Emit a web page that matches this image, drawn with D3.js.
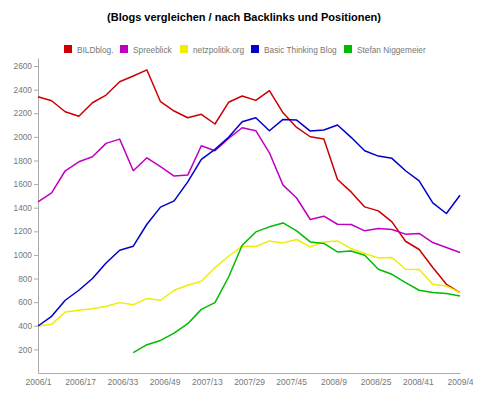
<!DOCTYPE html>
<html>
<head>
<meta charset="utf-8">
<script src="https://cdn.jsdelivr.net/npm/d3@7"></script>
<style>
  body { margin: 0; background: #fff; }
  svg { display: block; font-family: "Liberation Sans", Arial, sans-serif; }
</style>
</head>
<body>
<div id="chart"></div>
<script>
// x-axis labels (every 16 weeks), data points are 32 evenly spaced samples
const xLabels = ["2006/1", "2006/17", "2006/33", "2006/49", "2007/13", "2007/29",
                 "2007/45", "2008/9", "2008/25", "2008/41", "2009/4"];
const yTicks = [200, 400, 600, 800, 1000, 1200, 1400, 1600, 1800, 2000, 2200, 2400, 2600];

const seriesNames = ["BILDblog.", "Spreeblick", "netzpolitik.org", "Basic Thinking Blog", "Stefan Niggemeier"];
const seriesColors = ["#cc0000", "#c000c0", "#eeee00", "#0000cc", "#00bb00"];

const bildblog = [2340, 2306, 2213, 2174, 2289, 2354, 2467, 2516, 2567, 2298, 2219, 2162, 2191, 2109, 2293, 2346,
                  2309, 2391, 2204, 2080, 2001, 1981, 1639, 1534, 1407, 1373, 1280, 1116, 1046, 893, 751, 681];
const spreeblick = [1450, 1526, 1713, 1789, 1831, 1945, 1981, 1713, 1823, 1747, 1668, 1676, 1925, 1882, 1987, 2077,
                    2052, 1865, 1591, 1482, 1300, 1328, 1260, 1258, 1204, 1224, 1215, 1176, 1182, 1105, 1063, 1020];
const netzpolitik = [398, 412, 517, 531, 545, 565, 596, 579, 630, 616, 701, 743, 777, 893, 989, 1074,
                     1071, 1119, 1102, 1131, 1068, 1110, 1119, 1054, 1012, 975, 978, 879, 876, 751, 737, 681];
const basicThinking = [398, 480, 616, 701, 800, 932, 1040, 1074, 1260, 1405, 1458, 1619, 1809, 1894, 1996, 2128,
                       2162, 2052, 2148, 2142, 2049, 2058, 2100, 1996, 1882, 1837, 1818, 1713, 1628, 1441, 1351, 1506];
// Niggemeier starts later (first 7 samples missing)
const niggemeier = [null, null, null, null, null, null, null, 172, 240, 276, 338, 418, 539, 596, 813, 1082,
                    1195, 1238, 1271, 1204, 1110, 1097, 1025, 1034, 997, 879, 836, 766, 701, 681, 673, 652];

const allSeries = [bildblog, spreeblick, netzpolitik, basicThinking, niggemeier];

const width = 490, height = 397;
const plotLeft = 38, plotRight = 460, plotTop = 58, plotBottom = 373;

const svg = d3.select("#chart").append("svg")
  .attr("width", width)
  .attr("height", height);

svg.append("text")
  .attr("x", 244)
  .attr("y", 20.5)
  .attr("text-anchor", "middle")
  .style("font-size", "11px")
  .style("font-weight", "bold")
  .style("fill", "#000")
  .text("(Blogs vergleichen / nach Backlinks und Positionen)");

// legend
const legendX = [64, 120, 180, 251, 344];
const legend = svg.append("g").attr("class", "legend");
seriesNames.forEach((name, i) => {
  legend.append("rect")
    .attr("x", legendX[i]).attr("y", 45)
    .attr("width", 8).attr("height", 8)
    .attr("fill", seriesColors[i]);
  legend.append("text")
    .attr("x", legendX[i] + 13).attr("y", 52.5)
    .style("font-size", "8.3px")
    .style("fill", "#777")
    .text(name);
});

const n = bildblog.length;
const x = d3.scaleLinear().domain([0, n - 1]).range([plotLeft, plotRight]);
const y = d3.scaleLinear().domain([0, 2668]).range([plotBottom, plotTop]);
// label scale: 11 labels evenly across the same width
const xl = d3.scaleLinear().domain([0, xLabels.length - 1]).range([plotLeft, plotRight]);

const yAxis = svg.append("g")
  .attr("transform", `translate(${plotLeft},0)`)
  .call(d3.axisLeft(y).tickValues(yTicks).tickFormat(d3.format("d"))
    .tickSize(4).tickPadding(2).tickSizeOuter(0));
yAxis.select(".domain").attr("stroke", "#aaa");
yAxis.selectAll(".tick line").attr("stroke", "#aaa");
yAxis.selectAll(".tick text")
  .style("font-size", "8.3px")
  .style("fill", "#777")
  .style("font-family", "'Liberation Sans', Arial, sans-serif");

const xAxis = svg.append("g")
  .attr("transform", `translate(0,${plotBottom})`)
  .call(d3.axisBottom(xl).tickValues(d3.range(xLabels.length)).tickFormat(i => xLabels[i])
    .tickSize(0).tickPadding(6).tickSizeOuter(0));
xAxis.select(".domain").attr("stroke", "#aaa");
xAxis.selectAll(".tick text")
  .style("font-size", "8.5px")
  .style("fill", "#777")
  .style("font-family", "'Liberation Sans', Arial, sans-serif");

const line = d3.line()
  .defined(d => d != null)
  .x((d, i) => x(i))
  .y(d => y(d));

svg.append("g").attr("class", "lines")
  .selectAll("path")
  .data(allSeries)
  .enter().append("path")
  .attr("d", d => line(d))
  .attr("fill", "none")
  .attr("stroke", (d, i) => seriesColors[i])
  .attr("stroke-width", 1.5)
  .attr("stroke-linejoin", "round");
</script>
</body>
</html>
